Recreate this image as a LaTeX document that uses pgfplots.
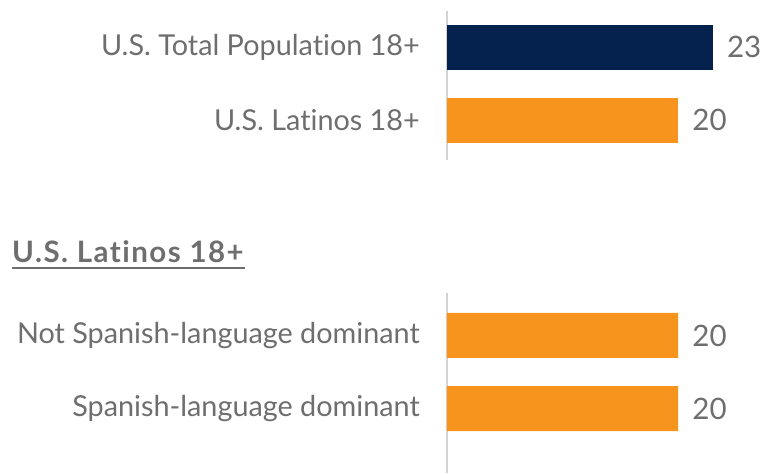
\documentclass[border=0pt]{standalone}
\usepackage{fontspec}
\setmainfont{Lato}[Ligatures=NoCommon]
\newfontfamily\headfont{Lato}[Ligatures=NoCommon, LetterSpace=5]
\usepackage{pgfplots}
\pgfplotsset{compat=1.18}

\definecolor{navy}{HTML}{05214E}
\definecolor{orng}{HTML}{F7941E}
\definecolor{txtgray}{HTML}{6E6E6E}
\definecolor{axgray}{HTML}{D4D4D4}

\pgfplotsset{
  barstyle/.style={
    scale only axis,
    xbar,
    bar width=45pt,
    xmin=0, xmax=25,
    width=289pt,
    y dir=reverse,
    hide x axis,
    axis y line*=left,
    y axis line style={draw=axgray, line width=1.2pt},
    major tick length=0pt,
    ytick={0,1},
    yticklabel style={font=\fontsize{28.8}{32}\selectfont, text=txtgray, inner sep=0pt, xshift=-27pt},
    nodes near coords,
    nodes near coords style={font=\fontsize{29.5}{33}\selectfont, text=txtgray, anchor=west, inner sep=0pt, xshift=14pt,
      /pgf/number format/assume math mode=true},
    point meta=explicit,
    clip=false,
  }
}

\begin{document}
\begin{tikzpicture}[x=1pt,y=1pt]
\path[use as bounding box] (0,0) rectangle (772,474);

% top group
\begin{axis}[barstyle,
  at={(447pt,314pt)}, anchor=south west,
  height=149pt, ymin=-0.5, ymax=1.55,
  yticklabels={U.S. Total Population 18+, U.S. Latinos 18+}]
\addplot[fill=navy, draw=none, bar shift=0pt] coordinates {(23,0) [23]};
\addplot[fill=orng, draw=none, bar shift=0pt] coordinates {(20,1) [20]};
\end{axis}

\node[anchor=base west, inner sep=0pt, text=txtgray, font=\headfont\fontsize{29.5}{33}\selectfont\bfseries]
  at (12,211) {U.S. Latinos 18+};
\draw[txtgray, line width=1.3pt] (12,206) -- (245,206);

% bottom group
\begin{axis}[barstyle,
  at={(447pt,1pt)}, anchor=south west,
  height=180pt, ymin=-0.58, ymax=1.88,
  yticklabels={Not Spanish-language dominant, Spanish-language dominant}]
\addplot[fill=orng, draw=none, bar shift=0pt] coordinates {(20,0) [20] (20,1) [20]};
\end{axis}
\end{tikzpicture}
\end{document}
